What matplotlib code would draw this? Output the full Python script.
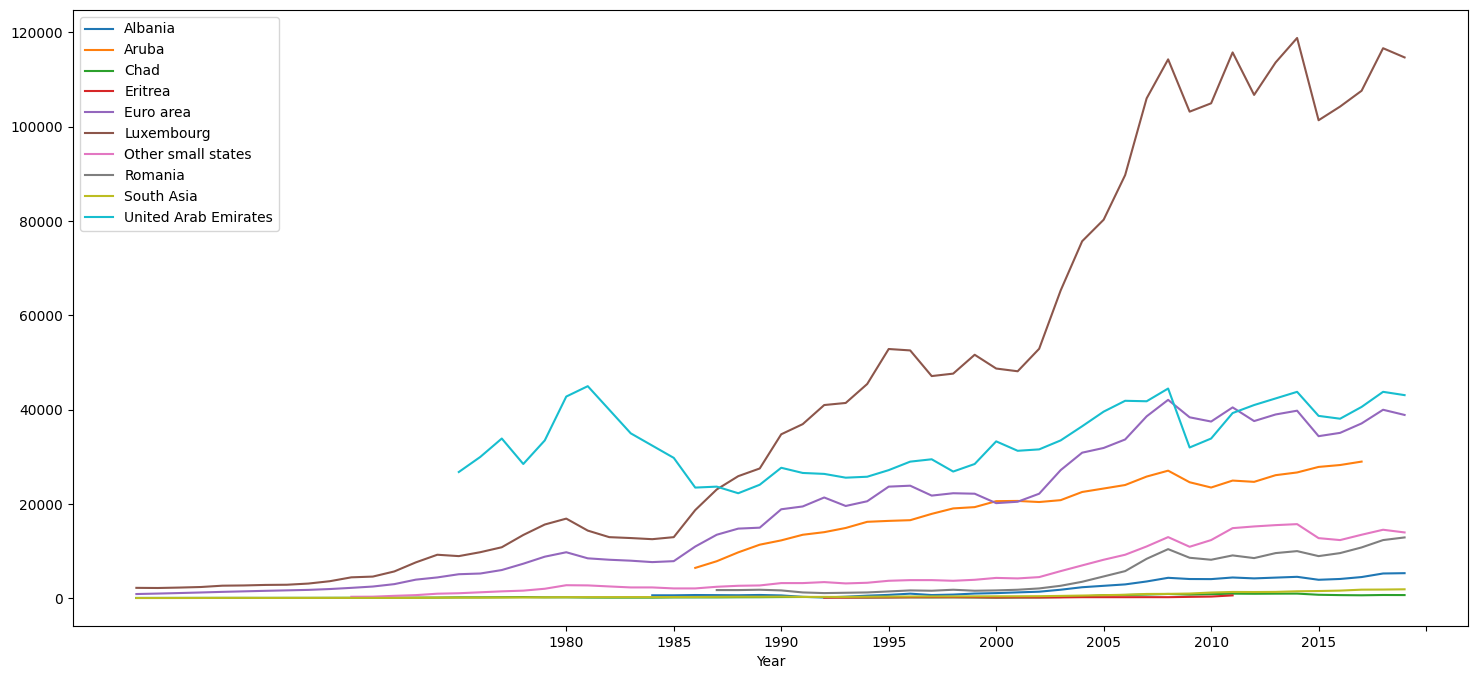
import numpy as np
import matplotlib
matplotlib.use("Agg")
from matplotlib import pyplot as plt

years = list(range(1960, 2020))

# GDP per capita values, each list starts at its first year
albania_start = 1984
albania = [662, 662, 719, 699, 676, 730, 639, 336, 201, 367, 586, 750, 1010, 717,
           813, 1033, 1126, 1281, 1425, 1846, 2373, 2673, 2973, 3595, 4370, 4114,
           4094, 4437, 4248, 4413, 4579, 3953, 4124, 4531, 5287, 5353]

aruba_start = 1986
aruba = [6472, 7886, 9765, 11392, 12307, 13496, 14047, 14937, 16241, 16439, 16586,
         17927, 19082, 19357, 20621, 20669, 20437, 20834, 22568, 23300, 24045,
         25835, 27085, 24630, 23513, 24986, 24714, 26129, 26706, 27880, 28282, 29008]

chad_start = 1960
chad = [104, 109, 114, 118, 121, 121, 121, 125, 126, 131, 135, 143, 144, 168, 181,
        227, 231, 252, 283, 230, 231, 185, 170, 171, 170, 211, 214, 218, 244, 252,
        287, 302, 286, 219, 192, 218, 234, 215, 233, 208, 167, 195, 220, 295, 425,
        671, 731, 822, 946, 810, 895, 1010, 987, 1010, 1022, 776, 702, 664, 727, 710]

eritrea_start = 1992
eritrea = [161, 173, 208, 215, 250, 262, 263, 247, 207, 223, 203, 216, 262, 263,
           261, 269, 262, 331, 391, 642]

euro_start = 1960
euro = [930, 1030, 1140, 1260, 1390, 1500, 1610, 1710, 1810, 1990, 2240, 2520, 3030,
        3980, 4450, 5130, 5280, 6020, 7360, 8850, 9790, 8500, 8200, 8000, 7700, 7900,
        11000, 13500, 14800, 15000, 18900, 19500, 21400, 19600, 20600, 23700, 23900,
        21800, 22300, 22200, 20200, 20500, 22200, 27200, 30900, 31900, 33700, 38600,
        42100, 38400, 37500, 40500, 37600, 39000, 39800, 34400, 35100, 37100, 40000, 38900]

lux_start = 1960
lux = [2240, 2210, 2300, 2420, 2700, 2750, 2860, 2900, 3150, 3650, 4470, 4630, 5720,
       7640, 9260, 8970, 9800, 10850, 13450, 15670, 16920, 14380, 12990, 12800, 12560,
       12990, 18730, 23100, 25920, 27550, 34800, 36950, 41000, 41440, 45460, 52880,
       52580, 47140, 47660, 51660, 48740, 48160, 52930, 65290, 75730, 80290, 89750,
       106020, 114290, 103200, 104970, 115760, 106750, 113630, 118820, 101380, 104280,
       107630, 116650, 114700]

small_start = 1970
small = [350, 370, 550, 700, 1000, 1100, 1300, 1500, 1650, 2050, 2800, 2760, 2540,
         2330, 2330, 2120, 2120, 2470, 2680, 2750, 3250, 3250, 3460, 3180, 3320, 3740,
         3880, 3880, 3740, 3950, 4350, 4240, 4520, 5790, 7000, 8200, 9260, 11020,
         13000, 10950, 12370, 14900, 15260, 15540, 15750, 12780, 12370, 13500, 14560,
         13990]

romania_start = 1987
romania = [1770, 1770, 1840, 1700, 1270, 1130, 1200, 1270, 1480, 1700, 1630, 1840,
           1630, 1700, 1840, 2120, 2680, 3530, 4660, 5790, 8400, 10450, 8620, 8200,
           9120, 8550, 9610, 10030, 8970, 9610, 10810, 12370, 12930]

sasia_start = 1960
sasia = [82, 85, 89, 97, 107, 113, 99, 105, 107, 115, 119, 124, 120, 135, 160, 169,
         166, 187, 208, 228, 263, 274, 277, 286, 282, 296, 308, 336, 359, 356, 373,
         320, 325, 319, 355, 383, 412, 423, 425, 443, 449, 456, 473, 534, 609, 691,
         775, 946, 963, 1036, 1249, 1372, 1357, 1383, 1513, 1567, 1657, 1857, 1880, 1935]

uae_start = 1975
uae = [26800, 30000, 33900, 28500, 33500, 42800, 45000, 40000, 35000, 32400, 29800,
       23500, 23700, 22300, 24100, 27700, 26600, 26400, 25600, 25800, 27200, 29000,
       29500, 26900, 28500, 33300, 31300, 31600, 33500, 36500, 39600, 41900, 41800,
       44500, 32000, 33900, 39300, 41000, 42400, 43800, 38700, 38100, 40600, 43800, 43100]

names = ["Albania", "Aruba", "Chad", "Eritrea", "Euro area", "Luxembourg",
         "Other small states", "Romania", "South Asia", "United Arab Emirates"]
series = [(albania_start, albania), (aruba_start, aruba), (chad_start, chad),
          (eritrea_start, eritrea), (euro_start, euro), (lux_start, lux),
          (small_start, small), (romania_start, romania), (sasia_start, sasia),
          (uae_start, uae)]

tick_years = [1980, 1985, 1990, 1995, 2000, 2005, 2010, 2015, 2020]
tick_labels = ["1980", "1985", "1990", "1995", "2000", "2005", "2010", "2015", ""]

fig, ax = plt.subplots(figsize=(14.77, 6.79), dpi=100)
fig.subplots_adjust(left=0.0494, right=0.9939, top=0.9853, bottom=0.078)

for name, (start, vals) in zip(names, series):
    yr = np.arange(start, start + len(vals))
    ax.plot(yr, vals, label=name)

ax.set_xticks(tick_years)
ax.set_xticklabels(tick_labels)
ax.set_xlim(1960 - 59 * 0.05, 2019 + 59 * 0.05)
ax.set_xlabel("Year")
ax.legend(loc="upper left")

plt.savefig("out.png")
